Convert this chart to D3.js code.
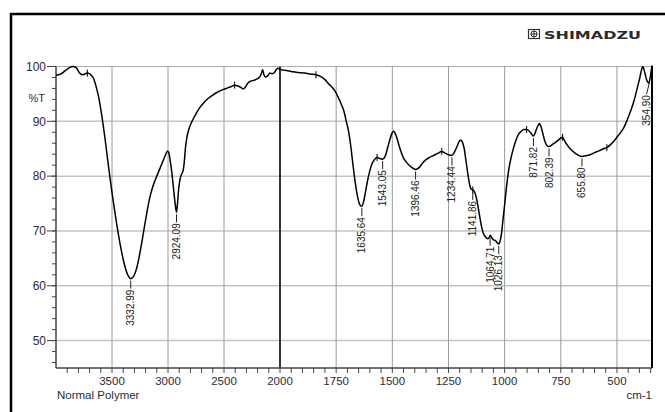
<!DOCTYPE html>
<html>
<head>
<meta charset="utf-8">
<script src="https://cdn.jsdelivr.net/npm/d3@7"></script>
<style>
  body { margin: 0; background: #fff; }
  svg { display: block; font-family: "Liberation Sans", Arial, sans-serif; }
</style>
</head>
<body>
<div id="chart"></div>
<script>
// spectrum (wavenumber cm-1, %T)
var wavenumbers = [4000, 3960, 3920, 3880, 3850, 3820, 3790, 3760, 3720, 3690, 3660, 3640, 3620, 3600, 3580, 3560, 3540, 3520, 3500, 3480, 3460, 3440, 3420, 3400, 3380, 3360, 3345, 3333, 3315, 3300, 3280, 3260, 3240, 3220, 3200, 3180, 3160, 3140, 3120, 3100, 3080, 3060, 3040, 3020, 3005, 2995, 2980, 2965, 2950, 2935, 2924, 2915, 2905, 2895, 2880, 2865, 2855, 2845, 2830, 2810, 2790, 2760, 2720, 2680, 2640, 2600, 2560, 2520, 2480, 2440, 2405, 2380, 2350, 2330, 2310, 2290, 2265, 2230, 2200, 2180, 2165, 2155, 2145, 2130, 2110, 2090, 2070, 2050, 2035, 2020, 2000, 1980, 1950, 1920, 1890, 1860, 1840, 1820, 1800, 1785, 1770, 1755, 1740, 1725, 1715, 1705, 1695, 1685, 1675, 1665, 1655, 1645, 1636, 1628, 1620, 1610, 1600, 1590, 1578, 1568, 1555, 1543, 1532, 1522, 1512, 1502, 1495, 1488, 1480, 1470, 1460, 1450, 1440, 1425, 1410, 1396, 1380, 1365, 1350, 1335, 1320, 1300, 1280, 1265, 1250, 1234, 1222, 1212, 1203, 1195, 1188, 1180, 1172, 1163, 1155, 1148, 1142, 1135, 1128, 1120, 1112, 1104, 1095, 1085, 1075, 1068, 1064, 1058, 1050, 1040, 1032, 1026, 1020, 1014, 1008, 1000, 990, 980, 970, 960, 950, 940, 928, 915, 902, 890, 880, 872, 865, 858, 850, 845, 838, 830, 822, 812, 802, 790, 775, 760, 748, 742, 735, 725, 710, 695, 680, 667, 656, 640, 620, 600, 580, 560, 545, 530, 515, 500, 485, 470, 455, 440, 425, 410, 398, 390, 385, 378, 368, 358, 352, 346, 344];
var transmittance = [98.4, 98.6, 99.2, 99.8, 100, 99.8, 98.8, 98.5, 98.8, 98.5, 97.6, 96.2, 94.5, 92.2, 89.5, 86.5, 83.2, 80.0, 77.0, 74.2, 71.5, 69.0, 66.8, 64.8, 63.2, 62.0, 61.5, 61.3, 61.5, 62.0, 63.2, 65.0, 67.2, 69.6, 72.0, 74.3, 76.3, 77.8, 79.0, 80.0, 81.0, 82.0, 83.0, 84.0, 84.6, 84.4, 82.8, 80.5, 77.6, 74.8, 73.4, 75.0, 77.6, 79.2, 80.3, 81.0, 82.5, 85.0, 87.2, 88.8, 89.8, 91.0, 92.4, 93.4, 94.2, 94.8, 95.3, 95.7, 96.0, 96.3, 96.6, 96.5, 96.2, 95.9, 96.2, 96.9, 97.3, 97.5, 97.8, 98.1, 98.8, 99.4, 98.6, 98.1, 98.3, 98.8, 98.7, 98.9, 99.4, 99.7, 99.5, 99.3, 99.1, 98.9, 98.8, 98.6, 98.5, 98.2, 97.6, 96.9, 96.3, 95.5, 94.3, 92.9, 91.8, 90.0, 88.2, 85.5, 82.0, 78.8, 76.3, 74.8, 74.5, 75.3, 77.0, 79.2, 81.0, 82.3, 83.1, 83.4, 83.2, 83.1, 83.6, 85.0, 86.5, 87.8, 88.2, 87.9, 87.0, 85.6, 84.3, 83.3, 82.7, 82.0, 81.5, 81.2, 81.6, 82.4, 83.0, 83.4, 83.7, 84.1, 84.5, 84.2, 83.9, 83.8, 84.5, 85.4, 86.3, 86.6, 86.2, 85.0, 82.8, 80.2, 78.3, 77.6, 77.5, 77.2, 76.4, 74.8, 72.9, 71.0, 69.6, 68.9, 68.6, 68.9, 69.2, 68.8, 68.4, 68.2, 67.8, 67.6, 68.2, 69.5, 71.8, 74.8, 78.6, 81.6, 83.6, 85.2, 86.5, 87.5, 88.1, 88.5, 88.5, 88.2, 87.7, 87.3, 87.8, 88.6, 89.3, 89.6, 89.0, 87.8, 86.5, 85.6, 85.4, 85.7, 86.1, 86.6, 87.0, 87.1, 86.6, 85.9, 85.1, 84.5, 84.0, 83.7, 83.6, 83.7, 83.9, 84.3, 84.6, 85.0, 85.2, 85.7, 86.3, 87.1, 87.9, 88.8, 90.2, 91.8, 93.6, 96.0, 98.0, 99.5, 100, 99.2, 97.6, 97.0, 98.0, 99.6, 100];

// peak labels printed under the dips
var peakLabels = ["3332.99", "2924.09", "1635.64", "1543.05", "1396.46", "1234.44", "1141.86", "1064.71", "1026.13", "871.82", "802.39", "655.80", "354.90"];
// small "+" marks sitting on the trace
var markWavenumbers = [3720, 2405, 1840, 1568, 1280, 1142, 902, 742, 545];

// axis ticks
var xTickLabels = [3500, 3000, 2500, 2000, 1750, 1500, 1250, 1000, 750, 500];
var yTickLabels = [100, 90, 80, 70, 60, 50];

var data = wavenumbers.map(function(w, i) { return {w: w, t: transmittance[i]}; });

var W = 665, H = 412;
var plot = {left: 56, right: 652, top: 66.5, bottom: 368};
var ink = "#2b2b3a";

var svg = d3.select("#chart")
  .append("svg")
    .attr("width", W)
    .attr("height", H);

// outer frame (runs off the right and bottom of the page)
svg.append("rect")
  .attr("x", 11).attr("y", 14)
  .attr("width", 700).attr("height", 500)
  .attr("fill", "none")
  .attr("stroke", "#000")
  .attr("stroke-width", 2.5);

// x is compressed above 2000 cm-1 like the instrument print
var x = d3.scaleLinear()
  .domain([4000, 2000, 344])
  .range([plot.left, 280, plot.right]);

var y = d3.scaleLinear()
  .domain([45, 100])
  .range([plot.bottom, plot.top]);

// horizontal grid
svg.append("g")
  .selectAll("line")
  .data([90, 80, 70, 60, 50])
  .enter().append("line")
    .attr("x1", plot.left).attr("x2", plot.right)
    .attr("y1", function(d) { return y(d); })
    .attr("y2", function(d) { return y(d); })
    .attr("stroke", "#c4c4c4")
    .attr("stroke-width", 1.5);

// top line at 100
svg.append("line")
  .attr("x1", plot.left).attr("x2", plot.right)
  .attr("y1", y(100)).attr("y2", y(100))
  .attr("stroke", "#aaa")
  .attr("stroke-width", 1.2);

// vertical grid, 2000 drawn heavier
svg.append("g")
  .selectAll("line")
  .data(xTickLabels)
  .enter().append("line")
    .attr("x1", function(d) { return x(d); })
    .attr("x2", function(d) { return x(d); })
    .attr("y1", plot.top).attr("y2", plot.bottom)
    .attr("stroke", function(d) { return d === 2000 ? "#333" : "#9a9a9a"; })
    .attr("stroke-width", function(d) { return d === 2000 ? 2 : 1; });

// y axis: majors every 10, minors every 2
var yMinor = d3.range(46, 100, 2);
var gy = svg.append("g");
gy.append("line")
  .attr("x1", plot.left).attr("x2", plot.left)
  .attr("y1", plot.top).attr("y2", plot.bottom)
  .attr("stroke", "#444").attr("stroke-width", 1.5);
gy.selectAll(".minor")
  .data(yMinor)
  .enter().append("line")
    .attr("x1", plot.left - 4).attr("x2", plot.left)
    .attr("y1", function(d) { return y(d); })
    .attr("y2", function(d) { return y(d); })
    .attr("stroke", "#444");
gy.selectAll(".major")
  .data(yTickLabels)
  .enter().append("line")
    .attr("x1", plot.left - 9).attr("x2", plot.left)
    .attr("y1", function(d) { return y(d); })
    .attr("y2", function(d) { return y(d); })
    .attr("stroke", "#444");
gy.selectAll("text")
  .data(yTickLabels)
  .enter().append("text")
    .attr("x", plot.left - 10)
    .attr("y", function(d) { return y(d); })
    .attr("dy", "0.36em")
    .attr("text-anchor", "end")
    .attr("font-size", 12)
    .attr("fill", ink)
    .text(function(d) { return d; });
gy.append("text")
  .attr("x", plot.left - 11)
  .attr("y", y(94.3))
  .attr("dy", "0.36em")
  .attr("text-anchor", "end")
  .attr("font-size", 11)
  .attr("fill", ink)
  .text("%T");

// x axis: minors every 100 above 2000, every 50 below
var xMinor = d3.range(3900, 2000, -100).concat(d3.range(2000, 344, -50));
var gx = svg.append("g");
gx.append("line")
  .attr("x1", plot.left).attr("x2", plot.right)
  .attr("y1", plot.bottom).attr("y2", plot.bottom)
  .attr("stroke", "#444").attr("stroke-width", 1.5);
gx.selectAll("line.tick")
  .data(xMinor)
  .enter().append("line")
    .attr("class", "tick")
    .attr("x1", function(d) { return x(d); })
    .attr("x2", function(d) { return x(d); })
    .attr("y1", plot.bottom).attr("y2", plot.bottom + 5)
    .attr("stroke", "#444");
gx.selectAll("text")
  .data(xTickLabels)
  .enter().append("text")
    .attr("x", function(d) { return x(d); })
    .attr("y", plot.bottom + 16.5)
    .attr("text-anchor", "middle")
    .attr("font-size", 11.5)
    .attr("fill", ink)
    .text(function(d) { return d; });

svg.append("text")
  .attr("x", 57).attr("y", 399)
  .attr("font-size", 11.5)
  .attr("fill", ink)
  .text("Normal Polymer");

svg.append("text")
  .attr("x", plot.right).attr("y", 398.5)
  .attr("text-anchor", "end")
  .attr("font-size", 11.5)
  .attr("fill", ink)
  .text("cm-1");

// right edge of the plot box
svg.append("line")
  .attr("x1", plot.right).attr("x2", plot.right)
  .attr("y1", plot.top - 1).attr("y2", plot.bottom)
  .attr("stroke", "#000").attr("stroke-width", 2);

// the trace
svg.append("clipPath").attr("id", "clip")
  .append("rect")
    .attr("x", plot.left).attr("y", plot.top - 2)
    .attr("width", plot.right - plot.left).attr("height", plot.bottom - plot.top + 2);

var line = d3.line()
  .x(function(d) { return x(d.w); })
  .y(function(d) { return y(d.t); })
  .curve(d3.curveMonotoneX);

svg.append("path")
  .datum(data)
  .attr("clip-path", "url(#clip)")
  .attr("fill", "none")
  .attr("stroke", "#000")
  .attr("stroke-width", 1.5)
  .attr("d", line);

// %T of the trace at any wavenumber (data sorted by falling w)
var bis = d3.bisector(function(d) { return -d.w; }).left;
function tAt(w) {
  var i = bis(data, -w);
  if (i <= 0) return data[0].t;
  if (i >= data.length) return data[data.length - 1].t;
  var a = data[i - 1], b = data[i];
  return a.t + (b.t - a.t) * (a.w - w) / (a.w - b.w);
}

// "+" marks
svg.append("g")
  .selectAll("line")
  .data(markWavenumbers)
  .enter().append("line")
    .attr("x1", function(d) { return x(d); })
    .attr("x2", function(d) { return x(d); })
    .attr("y1", function(d) { return y(tAt(d)) - 3.5; })
    .attr("y2", function(d) { return y(tAt(d)) + 3.5; })
    .attr("stroke", "#000")
    .attr("stroke-width", 1);

// peak labels, hanging under the dips
// the one against the right edge is pushed a little left and lower
function shiftX(d) { return x(+d) > plot.right - 8 ? -3 : 0; }
function gap(d) { return x(+d) > plot.right - 8 ? 15 : 11; }

var peaks = svg.append("g")
  .selectAll("g")
  .data(peakLabels)
  .enter().append("g")
    .attr("transform", function(d) {
      var w = +d;
      return "translate(" + x(w) + "," + y(tAt(w)) + ")";
    });

peaks.append("path")
  .attr("d", function(d) { return "M0,2L" + shiftX(d) + "," + (gap(d) - 1); })
  .attr("fill", "none")
  .attr("stroke", "#222")
  .attr("stroke-width", 1);

peaks.append("text")
  .attr("transform", function(d) { return "translate(" + shiftX(d) + "," + gap(d) + ") rotate(-90)"; })
  .attr("text-anchor", "end")
  .attr("dy", "0.35em")
  .attr("font-size", 10)
  .attr("fill", "#222")
  .text(function(d) { return d; });

// maker's logo
var logo = svg.append("g").attr("transform", "translate(528,29)");
logo.append("rect")
  .attr("x", 0.5).attr("y", 0.5).attr("width", 11).attr("height", 9)
  .attr("fill", "none").attr("stroke", "#333").attr("stroke-width", 1.2);
logo.append("circle")
  .attr("cx", 6).attr("cy", 5).attr("r", 3)
  .attr("fill", "none").attr("stroke", "#333").attr("stroke-width", 1);
logo.append("path")
  .attr("d", "M6,1.5V8.5M2.5,5H9.5")
  .attr("stroke", "#333").attr("stroke-width", 1);
logo.append("text")
  .attr("x", 16).attr("y", 9.5)
  .attr("font-family", "'DejaVu Sans', sans-serif")
  .attr("font-size", 11)
  .attr("font-weight", "bold")
  .attr("fill", "#2a2a2a")
  .attr("textLength", 97)
  .attr("lengthAdjust", "spacingAndGlyphs")
  .text("SHIMADZU");
</script>
</body>
</html>
